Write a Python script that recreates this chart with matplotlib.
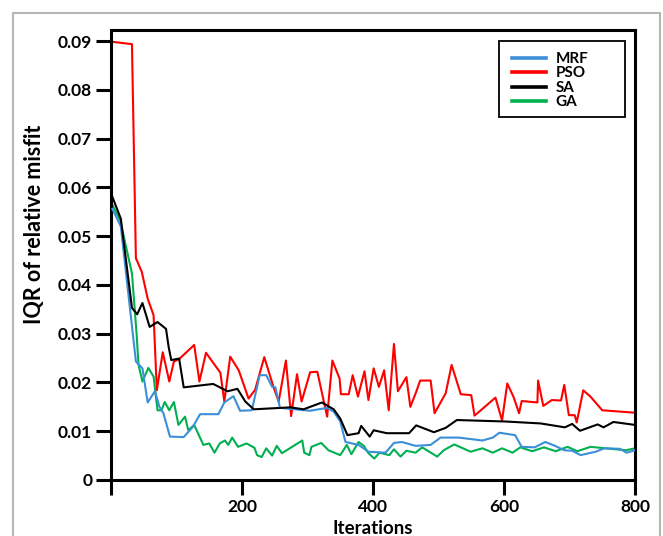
import matplotlib

matplotlib.use("Agg")
import matplotlib.pyplot as plt
from matplotlib.patches import Rectangle
from matplotlib.ticker import FixedLocator, FuncFormatter

# IQR of the relative misfit per optimiser, sampled at irregular iterations
mrf_iter = [2, 8, 15, 38, 48, 56, 67, 74, 80, 90, 111, 125, 136, 164, 173, 187, 197,
            215, 227, 237, 246, 251, 258, 304, 330, 340, 350, 358, 378, 393, 419, 432,
            444, 465, 488, 503, 531, 567, 583, 593, 607, 617, 627, 647, 663, 678, 692,
            704, 717, 740, 753, 777, 787, 800]
mrf_iqr = [0.0556, 0.0540, 0.0520, 0.0243, 0.0229, 0.0159, 0.0182, 0.0150, 0.0137,
           0.0089, 0.0088, 0.0109, 0.0135, 0.0135, 0.0159, 0.0172, 0.0142, 0.0143,
           0.0215, 0.0215, 0.0191, 0.0190, 0.0148, 0.0142, 0.0148, 0.0140, 0.0120,
           0.0078, 0.0072, 0.0058, 0.0056, 0.0076, 0.0078, 0.0070, 0.0072, 0.0087,
           0.0087, 0.0081, 0.0087, 0.0097, 0.0094, 0.0092, 0.0068, 0.0067, 0.0078,
           0.0070, 0.0061, 0.0060, 0.0051, 0.0058, 0.0065, 0.0064, 0.0056, 0.0061]

pso_iter = [0, 32, 38, 47, 56, 65, 70, 79, 89, 96, 104, 127, 135, 145, 167, 173, 182,
            195, 210, 220, 234, 248, 256, 267, 275, 284, 291, 304, 315, 330, 338, 349,
            351, 363, 369, 377, 387, 393, 401, 409, 417, 424, 432, 438, 451, 457, 466,
            472, 488, 494, 511, 520, 534, 550, 555, 587, 597, 605, 615, 623, 627, 651,
            652, 660, 673, 687, 692, 699, 708, 711, 721, 732, 750, 800]
pso_iqr = [0.0899, 0.0894, 0.0455, 0.0427, 0.0372, 0.0338, 0.0184, 0.0262, 0.0202,
           0.0243, 0.0248, 0.0277, 0.0202, 0.0261, 0.0220, 0.0161, 0.0253, 0.0225,
           0.0167, 0.0185, 0.0252, 0.0191, 0.0161, 0.0245, 0.0131, 0.0217, 0.0161,
           0.0221, 0.0222, 0.0130, 0.0245, 0.0208, 0.0176, 0.0176, 0.0215, 0.0171,
           0.0223, 0.0164, 0.0229, 0.0191, 0.0225, 0.0143, 0.0279, 0.0182, 0.0211,
           0.0150, 0.0181, 0.0204, 0.0204, 0.0137, 0.0178, 0.0236, 0.0176, 0.0174,
           0.0132, 0.0169, 0.0122, 0.0198, 0.0169, 0.0137, 0.0162, 0.0159, 0.0204,
           0.0152, 0.0164, 0.0163, 0.0195, 0.0133, 0.0133, 0.0118, 0.0184, 0.0171,
           0.0143, 0.0138]

sa_iter = [0, 15, 32, 40, 48, 59, 71, 84, 88, 92, 104, 111, 156, 178, 193, 205, 218,
           274, 294, 322, 340, 350, 361, 378, 382, 395, 401, 421, 455, 466, 493, 511,
           528, 602, 656, 693, 704, 716, 743, 752, 767, 800]
sa_iqr = [0.0588, 0.0536, 0.0353, 0.0340, 0.0363, 0.0314, 0.0324, 0.0310, 0.0273,
          0.0246, 0.0249, 0.0190, 0.0197, 0.0182, 0.0187, 0.0161, 0.0145, 0.0149,
          0.0145, 0.0159, 0.0145, 0.0126, 0.0092, 0.0096, 0.0111, 0.0089, 0.0102,
          0.0096, 0.0096, 0.0112, 0.0098, 0.0107, 0.0123, 0.0120, 0.0116, 0.0108,
          0.0115, 0.0101, 0.0114, 0.0108, 0.0119, 0.0113]

ga_iter = [0, 14, 24, 32, 39, 42, 48, 57, 65, 71, 77, 82, 89, 96, 103, 113, 118, 127,
           141, 150, 158, 166, 174, 179, 185, 194, 207, 219, 223, 230, 237, 246, 253,
           261, 292, 295, 303, 306, 321, 332, 350, 360, 367, 378, 386, 393, 402, 410,
           425, 432, 442, 451, 465, 475, 498, 508, 524, 549, 567, 583, 597, 613, 625,
           643, 661, 679, 697, 712, 732, 755, 786, 800]
ga_iqr = [0.0570, 0.0533, 0.0472, 0.0424, 0.0301, 0.0236, 0.0202, 0.0230, 0.0212,
          0.0143, 0.0143, 0.0160, 0.0143, 0.0160, 0.0113, 0.0130, 0.0102, 0.0113,
          0.0072, 0.0075, 0.0056, 0.0075, 0.0081, 0.0072, 0.0087, 0.0068, 0.0075,
          0.0066, 0.0051, 0.0047, 0.0065, 0.0050, 0.0070, 0.0055, 0.0081, 0.0056,
          0.0051, 0.0068, 0.0076, 0.0061, 0.0051, 0.0072, 0.0053, 0.0078, 0.0070,
          0.0055, 0.0044, 0.0056, 0.0051, 0.0063, 0.0048, 0.0060, 0.0056, 0.0067,
          0.0048, 0.0061, 0.0073, 0.0058, 0.0065, 0.0056, 0.0065, 0.0056, 0.0067,
          0.0059, 0.0067, 0.0059, 0.0068, 0.0059, 0.0068, 0.0065, 0.0061, 0.0065]

x_ticks = [0, 200, 400, 600, 800]
x_ticklabels = ["", "200", "400", "600", "800"]
y_ticks = [0, 0.01, 0.02, 0.03, 0.04, 0.05, 0.06, 0.07, 0.08, 0.09]

plt.rcParams["font.family"] = ["Lato", "DejaVu Sans"]
plt.rcParams["font.weight"] = "bold"

W, H = 663, 536
fig = plt.figure(figsize=(W / 100, H / 100), dpi=100)
ax = fig.add_axes([111 / W, 1 - 480 / H, (635 - 111) / W, (480 - 30) / H])

# light grey frame around the whole chart (runs off the bottom edge)
fig.patches.append(Rectangle((13 / W, -0.05), (660 - 13) / W, 1.05 - 13 / H,
                             transform=fig.transFigure, fill=False,
                             edgecolor="#b5b5b5", linewidth=1.5))

lw = 1.5
ax.plot(mrf_iter, mrf_iqr, color="#3b8fd9", lw=lw, label="MRF", zorder=3)
ax.plot(pso_iter, pso_iqr, color="#ff0000", lw=lw, label="PSO", zorder=2)
ax.plot(sa_iter, sa_iqr, color="#000000", lw=lw, label="SA", zorder=4)
ax.plot(ga_iter, ga_iqr, color="#00b050", lw=lw, label="GA", zorder=2)

# legend box drawn separately so the entries can sit tight inside it
fig.patches.append(Rectangle((499 / W, 1 - 117 / H), (625 - 499) / W, (117 - 41) / H,
                             transform=fig.transFigure, fill=True, facecolor="white",
                             edgecolor="black", linewidth=1.3, zorder=5))
leg = fig.legend(loc="upper left", bbox_to_anchor=(512 / W, 1 - 52 / H),
                 borderaxespad=0, borderpad=0, fontsize=11, frameon=False,
                 handlelength=2.2, handletextpad=0.65, labelspacing=0.03)
leg.set_zorder(6)
for line in leg.get_lines():
    line.set_linewidth(2.6)
for t in leg.get_texts():
    t.set_fontweight("bold")

ax.set_xlim(0, 800)
ax.set_ylim(0, 0.0923)
ax.xaxis.set_major_locator(FixedLocator(x_ticks))
ax.set_xticklabels(x_ticklabels)
ax.yaxis.set_major_locator(FixedLocator(y_ticks))
ax.yaxis.set_major_formatter(FuncFormatter(lambda v, _: "0" if v == 0 else f"{v:.2f}"))

for spine in ax.spines.values():
    spine.set_linewidth(2.2)
ax.tick_params(direction="out", length=10.5, width=2.2, labelsize=12.5, pad=3)
for t in ax.get_xticklabels() + ax.get_yticklabels():
    t.set_fontweight("bold")

ax.set_xlabel("Iterations", fontsize=13.5, fontweight="bold", labelpad=4)
ax.set_ylabel("IQR of relative misfit", fontsize=15.5, fontweight="bold")
ax.yaxis.set_label_coords(-0.1255, 0.569)

fig.savefig("out.png", dpi=100)
